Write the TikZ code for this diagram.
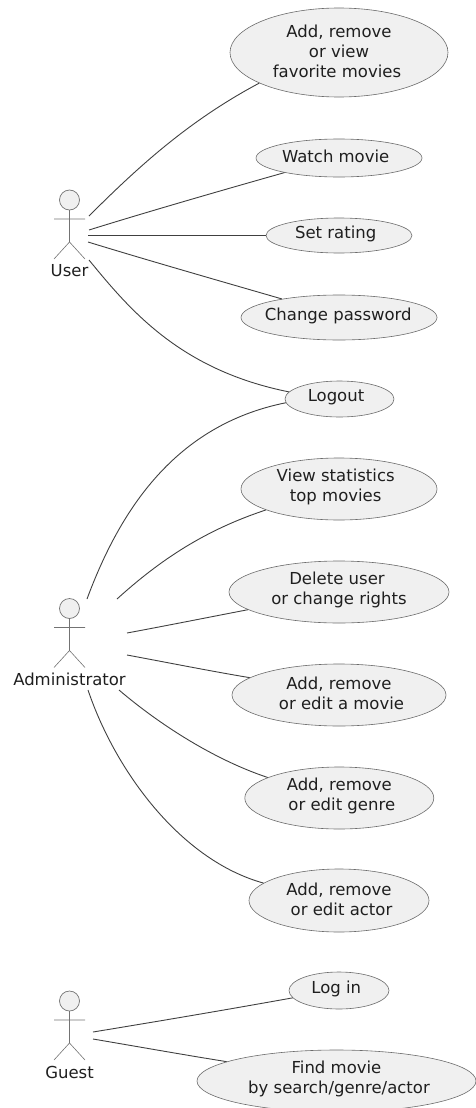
\documentclass[tikz,border=0pt]{standalone}
\usepackage{fontspec}
\setmainfont{DejaVu Sans}
\usetikzlibrary{shapes.geometric}
\tikzset{
  usecase/.style={ellipse,draw=black!58,fill=black!6,line width=0.6pt,inner sep=0pt,align=center,
    text=black!88,font=\fontsize{16.5}{20}\selectfont},
  conn/.style={draw=black!75,line width=0.9pt},
  actorline/.style={draw=black!55,line width=0.6pt},
  actorhead/.style={circle,draw=black!55,fill=black!6,line width=0.7pt,minimum size=20pt,inner sep=0pt},
  actorname/.style={text=black!88,font=\fontsize{16.5}{20}\selectfont,inner sep=0pt},
}
% one text line, moved by #1 pt sideways and slightly raised; takes no width so the ellipse keeps its size
\newcommand{\tl}[2][0]{\raisebox{1.6pt}[\height][\depth]{\makebox[0pt]{\hspace*{\dimexpr#1pt*2\relax}#2}}}
% name, x, head y, label text
\newcommand{\stickman}[4]{%
  \node[actorhead] (#1) at (#2,#3) {};
  \coordinate (#1neck) at (#2,#3+10);
  \coordinate (#1hip) at (#2,#3+42);
  \coordinate (#1la) at (#2-15.5,#3+19);
  \coordinate (#1ra) at (#2+15.5,#3+19);
  \coordinate (#1ll) at (#2-15.5,#3+59);
  \coordinate (#1rl) at (#2+15.5,#3+59);
  \draw[actorline] (#1neck) -- (#1hip) (#1la) -- (#1ra) (#1ll) -- (#1hip) -- (#1rl);
  \node[actorname] (#1name) at (#2,#3+71) {#4};
}
\newcommand{\usecasenode}[6]{%
  \node[usecase,minimum width=#4pt,minimum height=#5pt] (#1) at (#2,#3) {#6};
}
\begin{document}
\begin{tikzpicture}[x=1pt,y=-1pt]
\useasboundingbox (0,0) rectangle (475,1108);
\stickman{user}{69.5}{200}{User}
\stickman{admin}{69.5}{608.5}{Administrator}
\stickman{guest}{69.5}{1001}{Guest}

\usecasenode{fav}{339}{52.5}{218}{89}{\tl{Add, remove}\\\tl{or view}\\\tl[-2]{favorite movies}}
\usecasenode{watch}{339}{158}{166}{38}{\tl[-3.3]{Watch movie}}
\usecasenode{rate}{339}{235.5}{146}{35}{\tl[-3.3]{Set rating}}
\usecasenode{pass}{339}{317.5}{196}{45}{\tl[-0.7]{Change password}}
\usecasenode{logout}{339.5}{399}{109}{36}{\tl[-3.5]{Logout}}
\usecasenode{stats}{339}{489}{196}{62}{\tl[-3.3]{View statistics}\\\tl[-3.3]{top movies}}
\usecasenode{rights}{339}{592}{220}{62}{\tl[-2]{Delete user}\\\tl{or change rights}}
\usecasenode{movie}{339}{695}{214}{62}{\tl{Add, remove}\\\tl[2.5]{or edit a movie}}
\usecasenode{genre}{339.3}{798}{189}{62}{\tl{Add, remove}\\\tl[2.5]{or edit genre}}
\usecasenode{actor}{339}{900.5}{180}{63}{\tl{Add, remove}\\\tl[2.5]{or edit actor}}
\usecasenode{login}{339}{990.5}{100}{37}{\tl[-2.7]{Log in}}
\usecasenode{find}{336.5}{1081}{279}{62}{\tl{Find movie}\\\tl[2.5]{by search/genre/actor}}

\coordinate (u1) at (89,216);
\coordinate (u2) at (89,230);
\coordinate (u3) at (88,235.5);
\coordinate (u4) at (88,242);
\coordinate (u5) at (89,260);
\coordinate (a1) at (87,599);
\coordinate (a2) at (117,599);
\coordinate (a3) at (127,633);
\coordinate (a4) at (127,655);
\coordinate (a5) at (119,690);
\coordinate (a6) at (88,690);
\coordinate (g1) at (93,1032);
\coordinate (g2) at (93,1039);

\draw[conn] (u1) .. controls (140,165) and (190,120) .. (fav.201.1);
\draw[conn] (u2) .. controls (150,211) and (230,188) .. (watch.195.8);
\draw[conn] (u3) -- (rate.180);
\draw[conn] (u4) .. controls (150,261) and (220,281) .. (pass.162.9);
\draw[conn] (u5) .. controls (130,310) and (180,370) .. (logout.172.3);
\draw[conn] (a1) .. controls (120,510) and (175,425) .. (logout.184.3);
\draw[conn] (a2) .. controls (160,560) and (205,530) .. (stats.196.3);
\draw[conn] (a3) .. controls (170,625) and (210,617) .. (rights.191.2);
\draw[conn] (a4) .. controls (170,663) and (210,671) .. (movie.169.2);
\draw[conn] (a5) .. controls (160,725) and (215,760) .. (genre.164.5);
\draw[conn] (a6) .. controls (115,770) and (180,860) .. (actor.167.8);
\draw[conn] (g1) .. controls (160,1021) and (225,1010) .. (login.189.3);
\draw[conn] (g2) .. controls (140,1047) and (185,1055) .. (find.170.2);
\end{tikzpicture}
\end{document}
